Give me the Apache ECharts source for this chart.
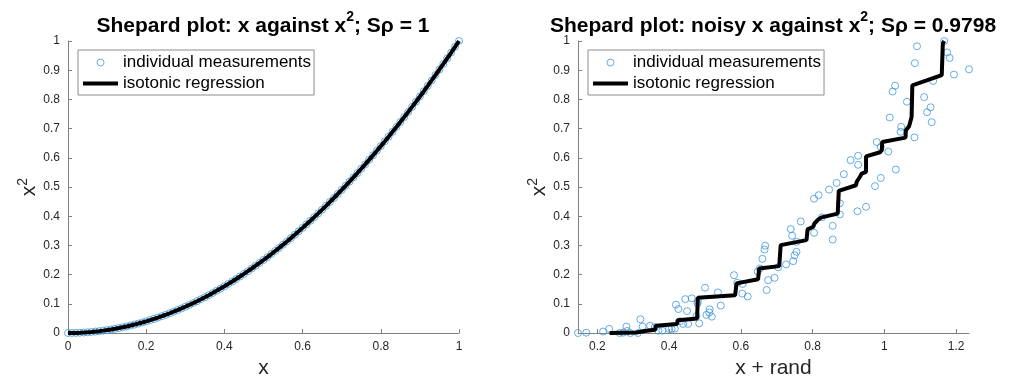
<!DOCTYPE html>
<html lang="en">
<head>
    <meta charset="UTF-8">
    <title>Shepard plots</title>
    <script src="https://cdn.jsdelivr.net/npm/echarts@6/dist/echarts.min.js"></script>
    <style>
        html, body { margin: 0; padding: 0; background: #fff; }
        #chart { width: 1014px; height: 379px; }
    </style>
</head>
<body>
    <div id="chart"></div>
    <script>
        // left panel: x against x^2
        var leftX = [0, 0.01, 0.02, 0.03, 0.04, 0.05, 0.06, 0.07, 0.08, 0.09, 0.1,
            0.11, 0.12, 0.13, 0.14, 0.15, 0.16, 0.17, 0.18, 0.19, 0.2,
            0.21, 0.22, 0.23, 0.24, 0.25, 0.26, 0.27, 0.28, 0.29, 0.3,
            0.31, 0.32, 0.33, 0.34, 0.35, 0.36, 0.37, 0.38, 0.39, 0.4,
            0.41, 0.42, 0.43, 0.44, 0.45, 0.46, 0.47, 0.48, 0.49, 0.5,
            0.51, 0.52, 0.53, 0.54, 0.55, 0.56, 0.57, 0.58, 0.59, 0.6,
            0.61, 0.62, 0.63, 0.64, 0.65, 0.66, 0.67, 0.68, 0.69, 0.7,
            0.71, 0.72, 0.73, 0.74, 0.75, 0.76, 0.77, 0.78, 0.79, 0.8,
            0.81, 0.82, 0.83, 0.84, 0.85, 0.86, 0.87, 0.88, 0.89, 0.9,
            0.91, 0.92, 0.93, 0.94, 0.95, 0.96, 0.97, 0.98, 0.99, 1];
        var leftY = [0, 0.0001, 0.0004, 0.0009, 0.0016, 0.0025, 0.0036, 0.0049, 0.0064, 0.0081, 0.01,
            0.0121, 0.0144, 0.0169, 0.0196, 0.0225, 0.0256, 0.0289, 0.0324, 0.0361, 0.04,
            0.0441, 0.0484, 0.0529, 0.0576, 0.0625, 0.0676, 0.0729, 0.0784, 0.0841, 0.09,
            0.0961, 0.1024, 0.1089, 0.1156, 0.1225, 0.1296, 0.1369, 0.1444, 0.1521, 0.16,
            0.1681, 0.1764, 0.1849, 0.1936, 0.2025, 0.2116, 0.2209, 0.2304, 0.2401, 0.25,
            0.2601, 0.2704, 0.2809, 0.2916, 0.3025, 0.3136, 0.3249, 0.3364, 0.3481, 0.36,
            0.3721, 0.3844, 0.3969, 0.4096, 0.4225, 0.4356, 0.4489, 0.4624, 0.4761, 0.49,
            0.5041, 0.5184, 0.5329, 0.5476, 0.5625, 0.5776, 0.5929, 0.6084, 0.6241, 0.64,
            0.6561, 0.6724, 0.6889, 0.7056, 0.7225, 0.7396, 0.7569, 0.7744, 0.7921, 0.81,
            0.8281, 0.8464, 0.8649, 0.8836, 0.9025, 0.9216, 0.9409, 0.9604, 0.9801, 1];

        // right panel: noisy x against x^2
        var noisyX = [1.167, 1.091, 1.175, 1.182, 1.085, 1.236, 1.194, 1.136, 1.030, 1.023,
            1.111, 1.063, 1.129, 1.119, 1.015, 1.132, 1.047, 1.045, 1.084, 0.979,
            0.990, 1.011, 0.927, 0.906, 0.927, 1.032, 0.887, 0.990, 0.867, 0.974,
            0.846, 0.817, 0.804, 0.876, 0.949, 0.925, 0.876, 0.826, 0.767, 0.856,
            0.739, 0.804, 0.743, 0.856, 0.755, 0.668, 0.666, 0.755, 0.750, 0.660,
            0.746, 0.726, 0.704, 0.653, 0.647, 0.581, 0.694, 0.676, 0.590, 0.500,
            0.672, 0.536, 0.604, 0.619, 0.463, 0.445, 0.419, 0.426, 0.450, 0.479,
            0.504, 0.512, 0.513, 0.519, 0.544, 0.476, 0.439, 0.453, 0.484, 0.320,
            0.326, 0.347, 0.281, 0.233, 0.216, 0.146, 0.169, 0.262, 0.272, 0.292,
            0.313, 0.283, 0.370, 0.381, 0.400, 0.407, 0.416, 0.605, 0.480, 0.430,
            0.360];
        var noisyY = [1.000, 0.982, 0.961, 0.942, 0.924, 0.903, 0.885, 0.863, 0.847, 0.827,
            0.808, 0.792, 0.773, 0.756, 0.738, 0.722, 0.706, 0.689, 0.670, 0.654,
            0.637, 0.621, 0.607, 0.592, 0.576, 0.560, 0.544, 0.531, 0.514, 0.503,
            0.491, 0.472, 0.460, 0.444, 0.432, 0.417, 0.406, 0.396, 0.382, 0.367,
            0.356, 0.343, 0.333, 0.320, 0.312, 0.299, 0.286, 0.278, 0.266, 0.254,
            0.246, 0.235, 0.225, 0.221, 0.210, 0.198, 0.189, 0.181, 0.172, 0.155,
            0.147, 0.139, 0.135, 0.125, 0.119, 0.116, 0.097, 0.082, 0.075, 0.101,
            0.062, 0.070, 0.081, 0.056, 0.094, 0.058, 0.031, 0.031, 0.033, 0.047,
            0.022, 0.025, 0.022, 0.014, 0.005, 0.000, 0.001, 0.000, 0.001, 0.000,
            0.000, 0.007, 0.008, 0.008, 0.014, 0.014, 0.015, 0.168, 0.109, 0.040,
            0.020];

        // isotonic regression line, right panel (vertices)
        var isoX = [0.234, 0.309, 0.332, 0.361, 0.363, 0.422, 0.424, 0.478, 0.480, 0.584,
            0.588, 0.648, 0.651, 0.707, 0.711, 0.783, 0.786, 0.802, 0.805, 0.816,
            0.825, 0.870, 0.873, 0.921, 0.923, 0.932, 0.937, 0.949, 0.949, 0.988,
            0.993, 0.994, 1.059, 1.060, 1.069, 1.076, 1.078, 1.078, 1.118, 1.160,
            1.163, 1.167];
        var isoY = [0.000, 0.002, 0.007, 0.011, 0.025, 0.031, 0.044, 0.050, 0.121, 0.129,
            0.170, 0.184, 0.221, 0.229, 0.301, 0.318, 0.355, 0.364, 0.375, 0.389,
            0.396, 0.409, 0.487, 0.506, 0.518, 0.535, 0.546, 0.552, 0.605, 0.619,
            0.626, 0.654, 0.669, 0.694, 0.708, 0.740, 0.746, 0.848, 0.865, 0.883,
            0.991, 1.000];

        var yTicks = [0, 0.1, 0.2, 0.3, 0.4, 0.5, 0.6, 0.7, 0.8, 0.9, 1];
        var leftXTicks = [0, 0.2, 0.4, 0.6, 0.8, 1];
        var rightXTicks = [0.2, 0.4, 0.6, 0.8, 1, 1.2];

        var FONT = '"Liberation Sans", Arial, Helvetica, sans-serif';
        var AXIS_GREY = '#808080';
        var MARKER_BLUE = '#3f97dd';
        var CLEAR = 'rgba(0,0,0,0)';

        function pairs(xs, ys) {
            return xs.map(function (x, i) { return [x, ys[i]]; });
        }

        function titleRich() {
            return {
                b: { fontSize: 21, fontWeight: 'bold', color: '#000', fontFamily: FONT, lineHeight: 32 },
                sup: { fontSize: 14, fontWeight: 'bold', color: '#000', fontFamily: FONT, lineHeight: 16, verticalAlign: 'top' }
            };
        }

        function xAxisOf(idx, min, max, ticks, name) {
            return {
                type: 'value', gridIndex: idx, min: min, max: max,
                name: name, nameLocation: 'middle', nameGap: 25,
                nameTextStyle: { fontSize: 21, color: '#262626', fontFamily: FONT },
                axisLine: { show: true, lineStyle: { color: AXIS_GREY, width: 1 } },
                axisTick: { show: true, inside: true, length: 4, customValues: ticks, lineStyle: { color: AXIS_GREY } },
                axisLabel: { customValues: ticks, color: '#262626', fontSize: 12, fontFamily: FONT, margin: 8 },
                splitLine: { show: false }
            };
        }

        function yAxisOf(idx, gap) {
            return {
                type: 'value', gridIndex: idx, min: 0, max: 1, interval: 0.1,
                name: '{a|x}{s|2}', nameLocation: 'middle', nameRotate: 90, nameGap: gap,
                nameTextStyle: {
                    rich: {
                        a: { fontSize: 21, color: '#262626', fontFamily: FONT, lineHeight: 26 },
                        s: { fontSize: 14, color: '#262626', fontFamily: FONT, lineHeight: 14, verticalAlign: 'top' }
                    }
                },
                axisLine: { show: true, lineStyle: { color: AXIS_GREY, width: 1 } },
                axisTick: { show: true, inside: true, length: 4, customValues: yTicks, lineStyle: { color: AXIS_GREY } },
                axisLabel: { customValues: yTicks, color: '#262626', fontSize: 12, fontFamily: FONT, margin: 8 },
                splitLine: { show: false }
            };
        }

        function legendOf(left) {
            return {
                orient: 'vertical', left: left, top: 50,
                selectedMode: false,
                backgroundColor: '#fff',
                borderColor: '#8c8c8c', borderWidth: 1,
                padding: [4, 3, 3, 3],
                itemWidth: 35, itemHeight: 7, itemGap: 4,
                textStyle: { fontSize: 17, color: '#000', fontFamily: FONT },
                data: [
                    {
                        name: 'individual measurements', icon: 'circle',
                        itemStyle: { color: CLEAR, borderColor: MARKER_BLUE, borderWidth: 1 }
                    },
                    {
                        // line only: hide the marker the line legend icon adds
                        name: 'isotonic regression',
                        itemStyle: { color: CLEAR, borderColor: CLEAR, borderWidth: 0 },
                        lineStyle: { color: '#000', width: 4 }
                    }
                ]
            };
        }

        function scatterOf(idx, data) {
            return {
                name: 'individual measurements', type: 'scatter',
                xAxisIndex: idx, yAxisIndex: idx,
                symbol: 'circle', symbolSize: 7, clip: false,
                itemStyle: { color: CLEAR, borderColor: MARKER_BLUE, borderWidth: 1 },
                data: data
            };
        }

        function lineOf(idx, data) {
            return {
                name: 'isotonic regression', type: 'line',
                xAxisIndex: idx, yAxisIndex: idx,
                symbol: 'none', clip: false,
                lineStyle: { color: '#000', width: 4 },
                itemStyle: { color: '#000' },
                data: data
            };
        }

        var chart = echarts.init(document.getElementById('chart'));
        chart.setOption({
            animation: false,
            backgroundColor: '#fff',
            title: [
                {
                    text: '{b|Shepard plot: x against x}{sup|2}{b|; Sρ = 1}',
                    left: 263, top: 10, textAlign: 'center', padding: 0,
                    textStyle: { rich: titleRich() }
                },
                {
                    text: '{b|Shepard plot: noisy x against x}{sup|2}{b|; Sρ = 0.9798}',
                    left: 773, top: 10, textAlign: 'center', padding: 0,
                    textStyle: { rich: titleRich() }
                }
            ],
            legend: [legendOf(78), legendOf(588)],
            grid: [
                { left: 68, top: 41, width: 391, height: 292, outerBoundsMode: 'none' },
                { left: 578, top: 41, width: 391, height: 292, outerBoundsMode: 'none' }
            ],
            xAxis: [
                xAxisOf(0, 0, 1, leftXTicks, 'x'),
                xAxisOf(1, 0.146, 1.236, rightXTicks, 'x + rand')
            ],
            yAxis: [yAxisOf(0, 24), yAxisOf(1, 16)],
            series: [
                scatterOf(0, pairs(leftX, leftY)),
                lineOf(0, pairs(leftX, leftY)),
                scatterOf(1, pairs(noisyX, noisyY)),
                lineOf(1, pairs(isoX, isoY))
            ]
        });
    </script>
</body>
</html>
